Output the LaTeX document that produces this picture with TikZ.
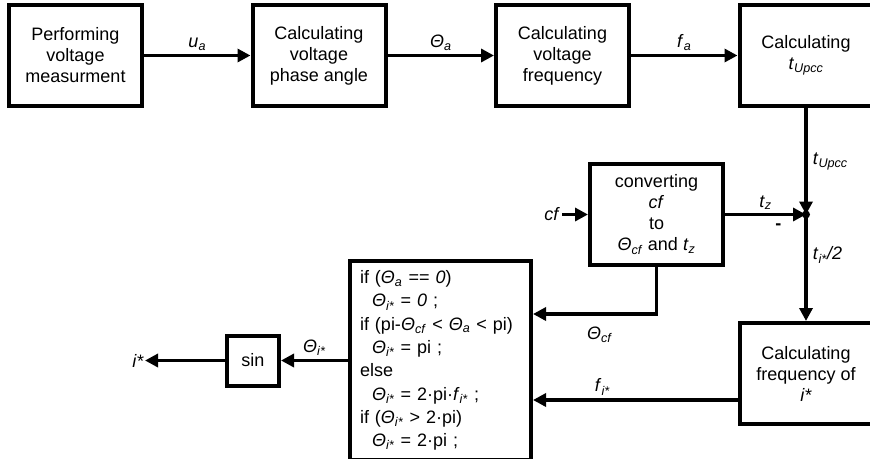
\documentclass[tikz,border=0pt]{standalone}
\usepackage{fontspec}
\setmainfont{Liberation Sans}
\usepackage{tikz}
\usetikzlibrary{arrows.meta,positioning}

\newcommand{\vsub}[2]{\textit{#1}\textsubscript{\textit{#2}}}

\begin{document}
\begin{tikzpicture}[
    x=1pt, y=-1pt,
    font=\fontsize{18pt}{21pt}\selectfont,
    node distance=106.5pt,
    box/.style={rectangle, draw, line width=4pt, align=center, minimum width=133pt, minimum height=101pt, inner sep=2pt},
    lbl/.style={inner sep=3pt},
    arr/.style={-{Triangle[length=13pt,width=13pt]}, line width=3.8pt}
]
    \useasboundingbox (0,0) rectangle (870,458);

    % Voltage path
    \node[box] (meas) at (75.5,55.5) {Performing\\voltage\\measurment};
    \node[box, right=of meas] (phase) {Calculating\\voltage\\phase angle};
    \node[box, right=of phase] (freq) {Calculating\\voltage\\frequency};
    \node[box, right=of freq] (tupcc) {Calculating\\\vsub{t}{Upcc}};

    % Current reference
    \node[box] (conv) at (656.5,214.5) {converting\\\textit{cf}\\to\\\vsub{Θ}{cf} and \vsub{t}{z}};
    \node[lbl, inner sep=2pt, left=26pt of conv] (cf) {\textit{cf}};
    \coordinate (sum) at (tupcc.south |- conv.east);
    \node[box, below=106.5pt of sum] (freqi) {Calculating\\frequency of\\\textit{i*}};
    \node[box, align=left, text width=161pt, minimum height=183pt, inner sep=10pt,
          font=\fontsize{18pt}{23.3pt}\selectfont] (calc) at (440.5,360.5)
        {if (\vsub{Θ}{a} == \textit{0})\\
         \hspace*{12pt}\vsub{Θ}{i*} = \textit{0} ;\\
         if (pi-\vsub{Θ}{cf} < \vsub{Θ}{a} < pi)\\
         \hspace*{12pt}\vsub{Θ}{i*} = pi ;\\
         else\\
         \hspace*{12pt}\vsub{Θ}{i*} = 2·pi·\vsub{f}{i*} ;\\
         if (\vsub{Θ}{i*} > 2·pi)\\
         \hspace*{12pt}\vsub{Θ}{i*} = 2·pi ;};
    \node[box, minimum width=52pt, minimum height=50pt, left=67pt of calc] (sin) {sin};
    \node[lbl, inner sep=1pt, left=80pt of sin] (istar) {\textit{i*}};

    % Connections
    \draw[arr] (meas) -- node[lbl, above] {\vsub{u}{a}} (phase);
    \draw[arr] (phase) -- node[lbl, above] {\vsub{Θ}{a}} (freq);
    \draw[arr] (freq) -- node[lbl, above] {\vsub{f}{a}} (tupcc);
    \draw[arr] (tupcc) -- node[lbl, right, inner sep=5pt] {\vsub{t}{Upcc}} (sum);
    \draw[arr] (cf) -- (conv);
    \draw[arr] (conv) -- node[lbl, above] {\vsub{t}{z}} node[lbl, below=4pt, pos=0.66] {\textbf{-}} (sum);
    \fill (sum) circle (4pt);
    \draw[arr] (sum) -- node[lbl, right, pos=0.38, inner sep=5pt] {\vsub{t}{i*}\textit{/2}} (freqi);
    \draw[arr] (conv.south) |- node[lbl, below=8pt, pos=0.73] {\vsub{Θ}{cf}} ([yshift=46.5pt]calc.east);
    \draw[arr] ([yshift=-26.5pt]freqi.west) -- node[lbl, above, pos=0.66] {\vsub{f}{i*}} ([yshift=-26.5pt]freqi.west -| calc.east);
    \draw[arr] (calc) -- node[lbl, above] {\vsub{Θ}{i*}} (sin);
    \draw[arr] (sin) -- (istar);
\end{tikzpicture}
\end{document}
